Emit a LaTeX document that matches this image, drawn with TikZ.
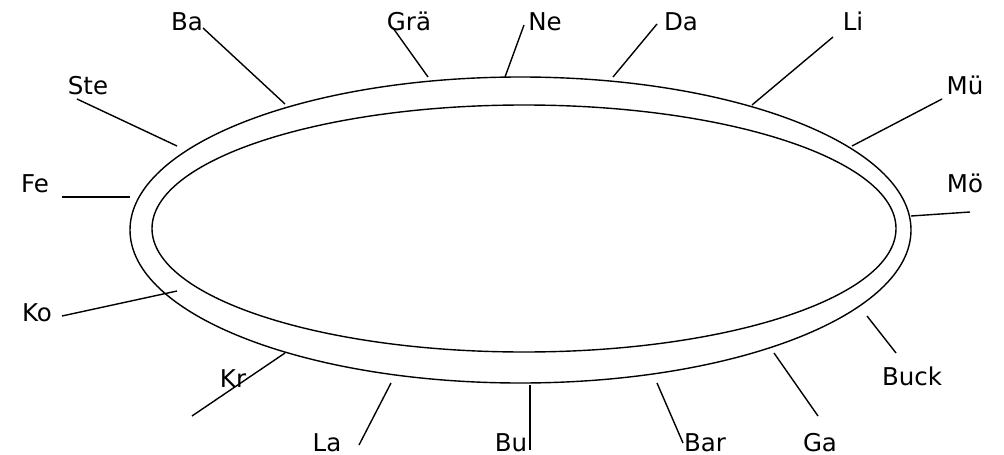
\documentclass[tikz,border=0pt]{standalone}
\usepackage{fontspec}
\setmainfont{DejaVu Sans}
\usetikzlibrary{positioning}
\tikzset{
	namelbl/.style={font=\fontsize{24.5}{29}\selectfont, inner sep=0pt, anchor=base},
	ringline/.style={line width=1.4pt},
	tickline/.style={line width=1.4pt}
}

\begin{document}
\begin{tikzpicture}[x=1pt, y=-1pt]
			\useasboundingbox (0,0) rectangle (1004,455);
			% two rings
			\draw[ringline] (520.5,230) ellipse [x radius=390.5, y radius=153];
			\draw[ringline] (524,228.5) ellipse [x radius=372, y radius=123.5];
			% labels
			\node[namelbl] (ba) at (187,30) {Ba};
			\node[namelbl] (gra) at (409,30) {Grä};
			\node[namelbl] (ne) at (545,30) {Ne};
			\node[namelbl] (da) at (681,30) {Da};
			\node[namelbl] (li) at (853,30) {Li};
			\node[namelbl] (mue) at (965,94) {Mü};
			\node[namelbl] (moe) at (965,192) {Mö};
			\node[namelbl] (buck) at (912,385) {Buck};
			\node[namelbl] (ga) at (820,451) {Ga};
			\node[namelbl] (bar) at (705,451) {Bar};
			\node[namelbl] (bu) at (511,451) {Bu};
			\node[namelbl] (la) at (327,451) {La};
			\node[namelbl] (kr) at (233,387) {Kr};
			\node[namelbl] (ko) at (37,321) {Ko};
			\node[namelbl] (fe) at (35,192) {Fe};
			\node[namelbl] (ste) at (88,94) {Ste};
			% line ends
			\coordinate (ba-a) at (203,28);   \coordinate (ba-b) at (285,104);
			\coordinate (gra-a) at (393,28);  \coordinate (gra-b) at (428,77);
			\coordinate (ne-a) at (524,25);   \coordinate (ne-b) at (505,77);
			\coordinate (da-a) at (657,24);   \coordinate (da-b) at (613,77);
			\coordinate (li-a) at (833,37);   \coordinate (li-b) at (752,105);
			\coordinate (mue-a) at (942,99);  \coordinate (mue-b) at (852,146);
			\coordinate (moe-a) at (970,212); \coordinate (moe-b) at (911,216);
			\coordinate (buck-a) at (896,353); \coordinate (buck-b) at (867,316);
			\coordinate (ga-a) at (818,416);  \coordinate (ga-b) at (774,353);
			\coordinate (bar-a) at (683,443); \coordinate (bar-b) at (657,383);
			\coordinate (bu-a) at (530,450);  \coordinate (bu-b) at (530,385);
			\coordinate (la-a) at (359,445);  \coordinate (la-b) at (391,383);
			\coordinate (kr-a) at (192,416);  \coordinate (kr-b) at (285,353);
			\coordinate (ko-a) at (62,316);   \coordinate (ko-b) at (177,291);
			\coordinate (fe-a) at (62,197);   \coordinate (fe-b) at (130,197);
			\coordinate (ste-a) at (77,99);   \coordinate (ste-b) at (177,146);
			\foreach \n in {ba,gra,ne,da,li,mue,moe,buck,ga,bar,bu,la,kr,ko,fe,ste}
				\draw[tickline] (\n-a) -- (\n-b);
		\end{tikzpicture}
\end{document}
